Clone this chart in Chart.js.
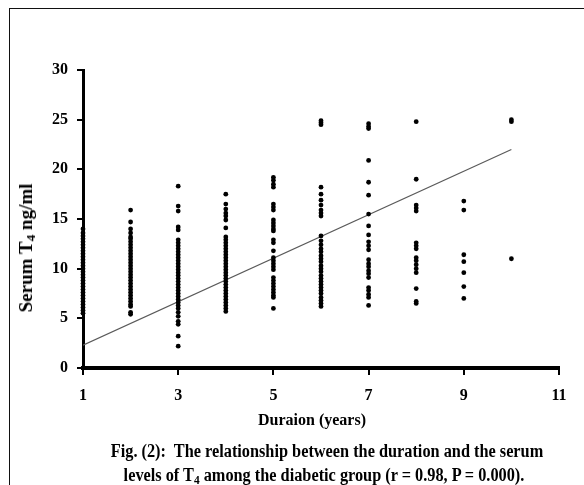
<!DOCTYPE html>
<html>
<head>
<meta charset="utf-8">
<script src="https://cdn.jsdelivr.net/npm/chart.js@4"></script>
<style>
  body { margin: 0; background: #fff; width: 584px; height: 485px; overflow: hidden; position: relative; }
  #frame { position: absolute; left: 9px; top: 8px; width: 600px; height: 500px; border-top: 1.5px solid #111; border-left: 1.5px solid #111; }
  #chart { position: absolute; left: 0; top: 0; }
  .txt { position: absolute; font-family: "Liberation Serif", "Times New Roman", serif; font-weight: bold; color: #000; white-space: nowrap; }
  #ytitle { left: 26px; top: 248px; font-size: 19px; transform: translate(-50%, -50%) rotate(-90deg); }
  #xtitle { left: 312px; top: 420px; font-size: 16px; transform: translate(-50%, -50%); }
  #cap1 { left: 327px; top: 451px; font-size: 18px; transform: translate(-50%, -50%) scaleX(0.905); }
  #cap2 { left: 324px; top: 475px; font-size: 18px; transform: translate(-50%, -50%) scaleX(0.905); }
  sub { font-size: 70%; vertical-align: -0.25em; line-height: 0; }
</style>
</head>
<body>
<div id="frame"></div>
<canvas id="chart" width="584" height="485"></canvas>
<div class="txt" id="ytitle">Serum T<sub>4</sub> ng/ml</div>
<div class="txt" id="xtitle">Duraion (years)</div>
<div class="txt" id="cap1">Fig. (2):&nbsp; The relationship between the duration and the serum</div>
<div class="txt" id="cap2">levels of T<sub>4</sub> among the diabetic group (r = 0.98, P = 0.000).</div>
<script>
// Serum T4 readings (ng/ml) for each duration in years
const durationYears = [1, 2, 3, 4, 5, 6, 7, 8, 9, 10];
const year1 = [5.5, 5.8, 6.1, 6.4, 6.7, 7.0, 7.3, 7.6, 7.9, 8.2, 8.5, 8.8, 9.1, 9.4, 9.7, 10.0, 10.3, 10.6, 10.9, 11.2, 11.5, 11.8, 12.1, 12.4, 12.7, 13.0, 13.3, 13.6, 14.0];
const year2 = [15.9, 14.7, 14.0, 13.6, 13.2, 13.0, 12.7, 12.4, 12.1, 11.8, 11.5, 11.2, 10.9, 10.6, 10.3, 10.0, 9.7, 9.4, 9.1, 8.8, 8.5, 8.2, 7.9, 7.6, 7.3, 7.0, 6.7, 6.4, 6.2, 5.6, 5.4];
const year3 = [18.3, 16.3, 15.8, 14.2, 13.9, 12.9, 12.6, 12.3, 12.0, 11.7, 11.4, 11.1, 10.8, 10.5, 10.2, 9.9, 9.6, 9.3, 9.0, 8.7, 8.4, 8.1, 7.8, 7.5, 7.2, 6.9, 6.6, 6.3, 6.0, 5.6, 5.2, 4.7, 4.4, 3.2, 2.2];
const year4 = [17.5, 16.5, 16.0, 15.6, 15.3, 14.9, 14.1, 13.2, 12.9, 12.6, 12.3, 12.0, 11.7, 11.4, 11.1, 10.8, 10.5, 10.2, 9.9, 9.6, 9.3, 9.0, 8.7, 8.4, 8.1, 7.8, 7.5, 7.2, 6.9, 6.6, 6.3, 6.0, 5.7];
const year5 = [19.2, 18.9, 18.5, 18.2, 16.5, 16.2, 15.9, 14.9, 14.6, 14.3, 14.0, 13.8, 12.9, 12.6, 11.8, 11.1, 10.8, 10.5, 10.2, 9.9, 9.1, 8.8, 8.5, 8.2, 7.9, 7.6, 7.3, 7.1, 6.0];
const year6 = [24.9, 24.7, 24.5, 18.2, 17.5, 16.9, 16.4, 15.9, 15.6, 15.3, 13.3, 12.8, 12.4, 12.0, 11.7, 11.3, 11.0, 10.7, 10.3, 10.0, 9.7, 9.3, 9.0, 8.7, 8.4, 8.1, 7.8, 7.5, 7.1, 6.8, 6.5, 6.2];
const year7 = [24.6, 24.3, 24.1, 20.9, 18.7, 17.4, 15.5, 14.3, 13.4, 12.7, 12.3, 11.9, 10.9, 10.5, 10.2, 9.8, 9.5, 9.1, 8.1, 7.8, 7.4, 7.1, 6.3];
const year8 = [24.8, 19.0, 16.4, 16.1, 15.8, 12.6, 12.3, 12.0, 11.1, 10.8, 10.4, 10.0, 9.6, 8.0, 6.7, 6.5];
const year9 = [16.8, 15.9, 11.4, 10.7, 9.6, 8.2, 7.0];
const year10 = [25.0, 24.8, 11.0];
const t4ByYear = [year1, year2, year3, year4, year5, year6, year7, year8, year9, year10];

// fitted trend line end points
const fitX = [1, 10];
const fitY = [2.3, 22.0];

// axis ticks
const xTicks = [1, 3, 5, 7, 9, 11];
const yTicks = [0, 5, 10, 15, 20, 25, 30];

const scatterPoints = [];
durationYears.forEach((yr, i) => {
    t4ByYear[i].forEach(v => scatterPoints.push({ x: yr, y: v }));
});
const fitPoints = fitX.map((x, i) => ({ x: x, y: fitY[i] }));

const tickFont = { family: '"Liberation Serif", "Times New Roman", serif', size: 16, weight: 'bold' };

new Chart(document.getElementById('chart').getContext('2d'), {
    type: 'scatter',
    data: {
        datasets: [{
            label: 'T4',
            data: scatterPoints,
            backgroundColor: '#000',
            borderColor: '#000',
            pointRadius: 2.4,
            pointBorderWidth: 0,
            clip: false
        }, {
            type: 'line',
            label: 'fit',
            data: fitPoints,
            borderColor: '#5a5a5a',
            borderWidth: 1.2,
            pointRadius: 0,
            fill: false
        }]
    },
    options: {
        responsive: false,
        animation: false,
        events: [],
        layout: { padding: { left: 0, top: 70, right: 25, bottom: 0 } },
        plugins: { legend: { display: false }, tooltip: { enabled: false } },
        scales: {
            x: {
                type: 'linear',
                min: xTicks[0],
                max: xTicks[xTicks.length - 1],
                afterBuildTicks: s => { s.ticks = xTicks.map(v => ({ value: v })); },
                afterFit: s => { s.height = 117; },
                border: { display: true, color: '#000', width: 4 },
                grid: { display: true, drawOnChartArea: false, drawTicks: true, tickLength: 7, color: '#000', lineWidth: 2 },
                ticks: { color: '#000', font: tickFont, padding: 11, maxRotation: 0 }
            },
            y: {
                type: 'linear',
                min: yTicks[0],
                max: yTicks[yTicks.length - 1],
                afterBuildTicks: s => { s.ticks = yTicks.map(v => ({ value: v })); },
                afterFit: s => { s.width = 83; },
                border: { display: true, color: '#000', width: 3 },
                grid: { display: true, drawOnChartArea: false, drawTicks: true, tickLength: 6, color: '#000', lineWidth: 2 },
                ticks: { color: '#000', font: tickFont, padding: 9 }
            }
        }
    }
});
</script>
</body>
</html>
